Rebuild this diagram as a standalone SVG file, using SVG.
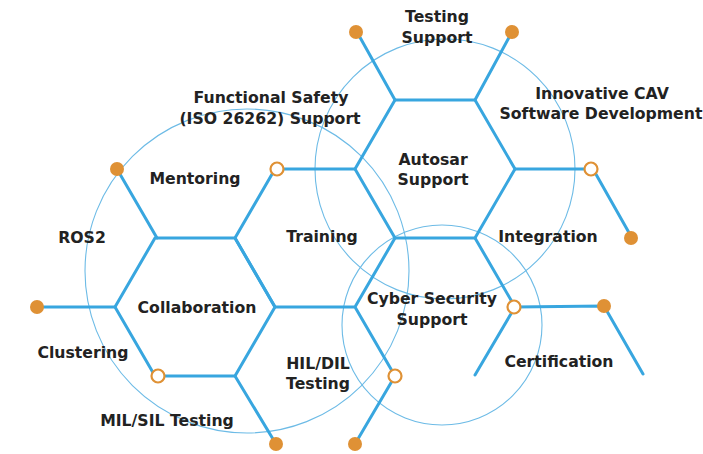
<svg xmlns="http://www.w3.org/2000/svg" width="703" height="454" viewBox="0 0 703 454">
<style>
.ring{fill:none;stroke:#6dbbe6;stroke-width:1.1}
.ln{fill:none;stroke:#38a6df;stroke-width:3;stroke-linecap:round;stroke-linejoin:round}
.dot{fill:#df9135}
.ring2{fill:#fff;stroke:#df9135;stroke-width:2.2}
.t{font-family:"DejaVu Sans","Liberation Sans",sans-serif;font-weight:700;font-size:15.7px;fill:#222;text-anchor:middle}
</style>
<rect width="703" height="454" fill="#fff"/>
<g id="rings">
<circle class="ring" cx="247" cy="271" r="162"/>
<circle class="ring" cx="445" cy="169" r="130"/>
<circle class="ring" cx="442" cy="325" r="100"/>
</g>
<g id="connectors">
<path class="ln" d="M395,100 L475,100 L515,169 L475,238 L395,238 L355,169 Z"/>
<path class="ln" d="M395,100 L357,32 M475,100 L512,32"/>
<path class="ln" d="M515,169 L593,169 L632,238"/>
<path class="ln" d="M275,169 L355,169 M275,169 L235,238 L275,307 L355,307 M395,238 L355,307 L395,376 L355,444"/>
<path class="ln" d="M117,169 L157,238"/>
<path class="ln" d="M155,238 L235,238 L275,307 L235,376 L155,376 L115,307 Z"/>
<path class="ln" d="M115,307 L37,307 M235,376 L276,444"/>
<path class="ln" d="M475,238 L515,307 L475,375 M515,307 L604,306 L643,374"/>
</g>
<g id="dots">
<circle class="dot" cx="356" cy="32" r="7"/>
<circle class="dot" cx="512" cy="32" r="7"/>
<circle class="dot" cx="631" cy="238" r="7"/>
<circle class="dot" cx="117" cy="169" r="7"/>
<circle class="dot" cx="37" cy="307" r="7"/>
<circle class="dot" cx="276" cy="444" r="7"/>
<circle class="dot" cx="355" cy="444" r="7"/>
<circle class="dot" cx="604" cy="306" r="7"/>
<circle class="ring2" cx="591" cy="169" r="6.5"/>
<circle class="ring2" cx="277" cy="169" r="6.5"/>
<circle class="ring2" cx="158" cy="376" r="6.5"/>
<circle class="ring2" cx="395" cy="376" r="6.5"/>
<circle class="ring2" cx="514" cy="307" r="6.5"/>
</g>
<g id="n-testing-support"><text class="t" x="437" y="22">Testing</text><text class="t" x="437" y="43">Support</text></g>
<g id="n-innovative"><text class="t" x="602" y="99">Innovative CAV</text><text class="t" x="601" y="119">Software Development</text></g>
<g id="n-functional-safety"><text class="t" x="271" y="103">Functional Safety</text><text class="t" x="270" y="124">(ISO 26262) Support</text></g>
<g id="n-mentoring"><text class="t" x="195" y="184">Mentoring</text></g>
<g id="n-autosar"><text class="t" x="433" y="165">Autosar</text><text class="t" x="433" y="185">Support</text></g>
<g id="n-ros2"><text class="t" x="82" y="243">ROS2</text></g>
<g id="n-training"><text class="t" x="322" y="242">Training</text></g>
<g id="n-integration"><text class="t" x="548" y="242">Integration</text></g>
<g id="n-collaboration"><text class="t" x="197" y="313">Collaboration</text></g>
<g id="n-cyber"><text class="t" x="432" y="304">Cyber Security</text><text class="t" x="432" y="325">Support</text></g>
<g id="n-clustering"><text class="t" x="83" y="358">Clustering</text></g>
<g id="n-hil"><text class="t" x="318" y="369">HIL/DIL</text><text class="t" x="318" y="389">Testing</text></g>
<g id="n-certification"><text class="t" x="559" y="367">Certification</text></g>
<g id="n-mil"><text class="t" x="167" y="426">MIL/SIL Testing</text></g>
</svg>
